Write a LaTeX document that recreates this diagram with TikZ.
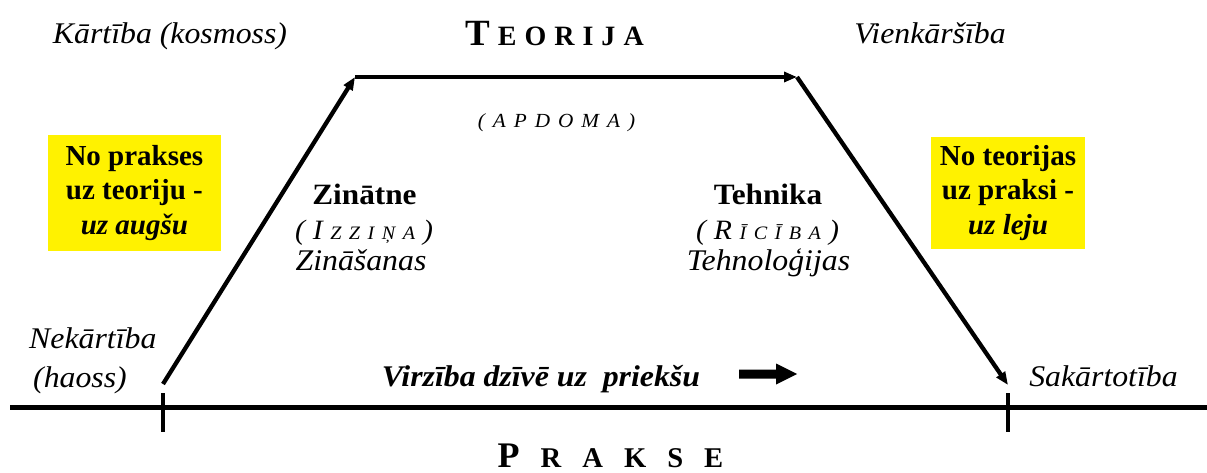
\documentclass[tikz,border=0pt]{standalone}
\usepackage{fontspec}
\setmainfont{Liberation Serif}
\newfontfamily\wideserif[FakeStretch=1.06]{Liberation Serif}
\usetikzlibrary{arrows.meta}

\tikzset{
  flow/.style={line width=4.3pt,-{Triangle[length=13pt,width=10pt]}},
  axisline/.style={line width=5pt},
  tickmark/.style={line width=4.5pt},
  lbl/.style={font=\wideserif\fontsize{30}{38}\selectfont\itshape,inner sep=0pt,anchor=base},
  head/.style={font=\wideserif\fontsize{29.5}{34}\selectfont\bfseries,inner sep=0pt,anchor=base},
  note/.style={fill=yellow,font=\fontsize{29}{34.5}\selectfont\bfseries,align=center,inner sep=0pt}
}

\begin{document}
\begin{tikzpicture}[x=1pt,y=-1pt]
\useasboundingbox (0,0) rectangle (1207,473);

% corners of the way
\coordinate (chaos) at (163,384);
\coordinate (upL) at (355,77);
\coordinate (upR) at (797,77);
\coordinate (order) at (1008,385);

\draw[flow] (chaos) -- (upL);
\draw[flow] (upL) -- (upR);
\draw[flow] (upR) -- (order);

% practice line
\draw[axisline] (10,407) -- (1207,407);
\foreach \x in {163,1008}{
\draw[tickmark] (\x,393) -- (\x,432);
}

% top row
\node[lbl] (kosmoss) at (170,44) {Kārtība (kosmoss)};
\node[lbl] (vienk) at (930,44) {Vienkāršība};
\node[inner sep=0pt,anchor=base,font=\bfseries] (teorija) at (554.5,46)
  {\fontsize{37}{37}\selectfont T\fontsize{28}{28}\selectfont\foreach \c in {E,O,R,I,J,A}{\hspace{8pt}\c}};
\node[inner sep=0pt,anchor=base,font=\wideserif\fontsize{20}{20}\selectfont\itshape] (apdoma) at (556.5,128)
  {(\foreach \c in {A,P,D,O,M,A}{\hspace{8pt}\c}\hspace{8pt})};

% yellow notes
\node[note,minimum width=173,minimum height=116] (upbox) at (134.4,193)
  {No prakses\\uz teoriju -\\\textit{uz augšu}};
\node[note,minimum width=154,minimum height=112] (downbox) at (1008,193)
  {No teorijas\\uz praksi -\\\textit{uz leju}};

% science side
\node[head] (zinatne) at (364.5,205) {Zinātne};
\node[inner sep=0pt,anchor=base,font=\wideserif\itshape] (izzina) at (364,239)
  {\fontsize{28}{28}\selectfont(\hspace{8pt}I\fontsize{19}{19}\selectfont\foreach \c in {Z,Z,I,Ņ,A}{\hspace{7.5pt}\c}\hspace{8pt}\fontsize{28}{28}\selectfont)};
\node[lbl] (zinasanas) at (361,270) {Zināšanas};

% technics side
\node[head] (tehnika) at (768,205) {Tehnika};
\node[inner sep=0pt,anchor=base,font=\wideserif\itshape] (riciba) at (767.5,239)
  {\fontsize{28}{28}\selectfont(\hspace{8pt}R\fontsize{19}{19}\selectfont\foreach \c in {Ī,C,Ī,B,A}{\hspace{7.5pt}\c}\hspace{8pt}\fontsize{28}{28}\selectfont)};
\node[lbl] (tehnologijas) at (768.5,270) {Tehnoloģijas};

% bottom row
\node[lbl,anchor=base west] (nekartiba) at (29,348) {Nekārtība};
\node[lbl,anchor=base west] (haoss) at (33,387) {(haoss)};
\node[lbl,font=\wideserif\fontsize{30}{38}\selectfont\bfseries\itshape] (virziba) at (541,386) {Virzība dzīvē uz\ \ priekšu};
\fill (739,369.5) -- (776,369.5) -- (776,363.5) -- (797,374) -- (776,384.5) -- (776,378.5) -- (739,378.5) -- cycle;
\node[lbl] (sakartotiba) at (1103.5,386) {Sakārtotība};
\node[inner sep=0pt,anchor=base,font=\bfseries] (prakse) at (610.5,467.5)
  {\fontsize{36}{36}\selectfont P\fontsize{28.6}{28.6}\selectfont\foreach \c in {R,A,K,S,E}{\hspace{21pt}\c}};
\end{tikzpicture}
\end{document}
